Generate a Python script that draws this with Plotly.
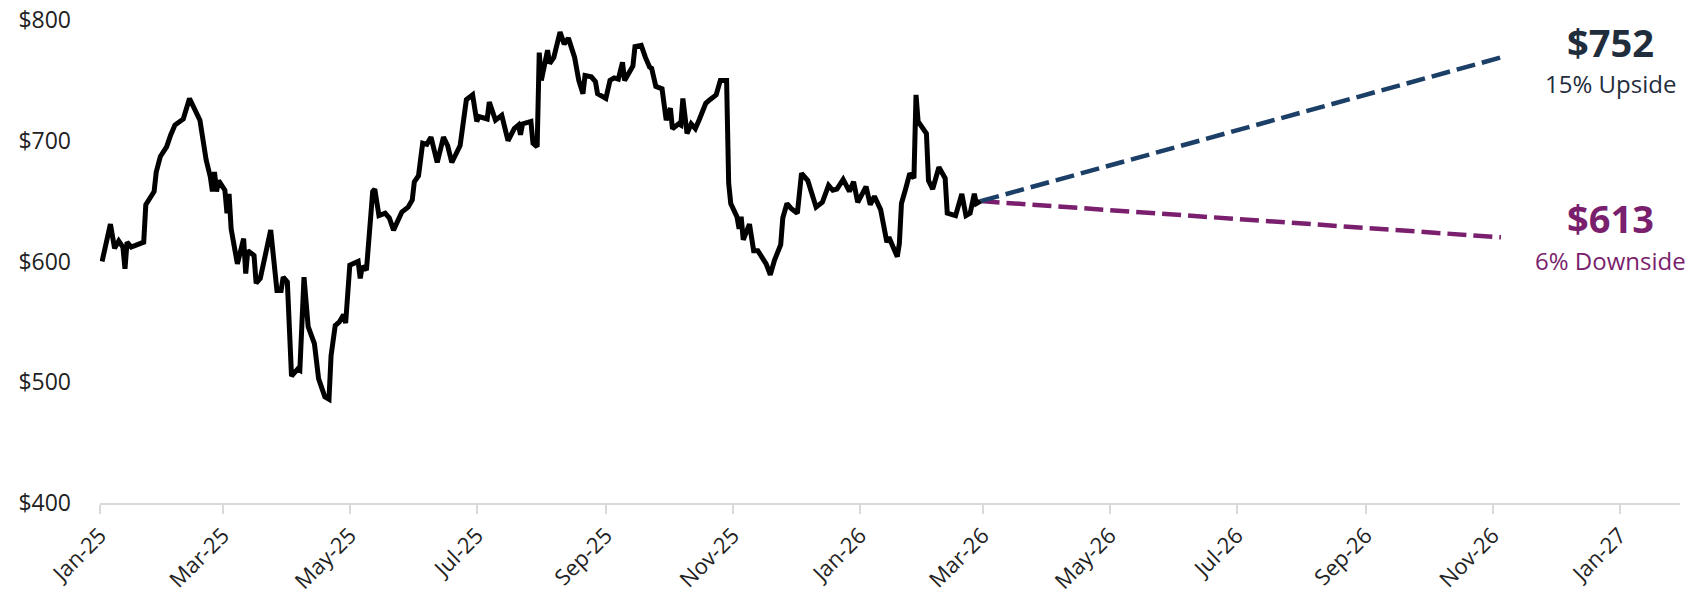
import plotly.graph_objects as go

dates = [
    "2025-01-02", "2025-01-06", "2025-01-08", "2025-01-10", "2025-01-12", "2025-01-13", "2025-01-14", "2025-01-16",
    "2025-01-22", "2025-01-23", "2025-01-27", "2025-01-28", "2025-01-30", "2025-02-02", "2025-02-04", "2025-02-06",
    "2025-02-10", "2025-02-13", "2025-02-18", "2025-02-21", "2025-02-23", "2025-02-24", "2025-02-25", "2025-02-26",
    "2025-02-27", "2025-03-02", "2025-03-03", "2025-03-04", "2025-03-05", "2025-03-08", "2025-03-11", "2025-03-12",
    "2025-03-13", "2025-03-16", "2025-03-17", "2025-03-19", "2025-03-24", "2025-03-27", "2025-03-29", "2025-03-30",
    "2025-04-01", "2025-04-03", "2025-04-06", "2025-04-07", "2025-04-09", "2025-04-11", "2025-04-14", "2025-04-16",
    "2025-04-19", "2025-04-21", "2025-04-22", "2025-04-24", "2025-04-26", "2025-04-28", "2025-04-29", "2025-05-01",
    "2025-05-05", "2025-05-06", "2025-05-07", "2025-05-09", "2025-05-12", "2025-05-13", "2025-05-15", "2025-05-18",
    "2025-05-20", "2025-05-22", "2025-05-26", "2025-05-29", "2025-05-31", "2025-06-01", "2025-06-03", "2025-06-04",
    "2025-06-05", "2025-06-07", "2025-06-09", "2025-06-12", "2025-06-15", "2025-06-17", "2025-06-19", "2025-06-23",
    "2025-06-24", "2025-06-26", "2025-06-29", "2025-07-01", "2025-07-02", "2025-07-06", "2025-07-07", "2025-07-10",
    "2025-07-13", "2025-07-16", "2025-07-19", "2025-07-21", "2025-07-22", "2025-07-23", "2025-07-27", "2025-07-28",
    "2025-07-30", "2025-07-31", "2025-08-01", "2025-08-04", "2025-08-05", "2025-08-07", "2025-08-10", "2025-08-12",
    "2025-08-14", "2025-08-17", "2025-08-19", "2025-08-21", "2025-08-22", "2025-08-25", "2025-08-27", "2025-08-28",
    "2025-09-01", "2025-09-03", "2025-09-05", "2025-09-07", "2025-09-09", "2025-09-10", "2025-09-12", "2025-09-14",
    "2025-09-15", "2025-09-18", "2025-09-20", "2025-09-22", "2025-09-23", "2025-09-25", "2025-09-28", "2025-09-30",
    "2025-10-02", "2025-10-03", "2025-10-06", "2025-10-07", "2025-10-08", "2025-10-10", "2025-10-12", "2025-10-14",
    "2025-10-16", "2025-10-19", "2025-10-21", "2025-10-24", "2025-10-26", "2025-10-29", "2025-10-30", "2025-10-31",
    "2025-11-03", "2025-11-04", "2025-11-05", "2025-11-06", "2025-11-09", "2025-11-11", "2025-11-13", "2025-11-17",
    "2025-11-19", "2025-11-21", "2025-11-24", "2025-11-25", "2025-11-27", "2025-11-29", "2025-12-02", "2025-12-04",
    "2025-12-07", "2025-12-09", "2025-12-11", "2025-12-14", "2025-12-16", "2025-12-17", "2025-12-19", "2025-12-21",
    "2025-12-24", "2025-12-27", "2025-12-29", "2025-12-31", "2026-01-04", "2026-01-06", "2026-01-08", "2026-01-11",
    "2026-01-14", "2026-01-15", "2026-01-17", "2026-01-19", "2026-01-20", "2026-01-21", "2026-01-23", "2026-01-25",
    "2026-01-27", "2026-01-28", "2026-01-29", "2026-02-02", "2026-02-03", "2026-02-05", "2026-02-08", "2026-02-11",
    "2026-02-12", "2026-02-16", "2026-02-19", "2026-02-21", "2026-02-23", "2026-02-25", "2026-02-26", "2026-02-28",
]

prices = [
    600, 631, 611, 617, 612, 594, 616, 612,
    616, 647, 658, 674, 687, 695, 705, 713,
    718, 735, 717, 684, 670, 658, 674, 658,
    667, 659, 640, 656, 627, 598, 619, 590,
    609, 605, 582, 586, 626, 576, 576, 587,
    583, 505, 511, 510, 587, 546, 532, 503,
    488, 486, 522, 547, 550, 556, 549, 597,
    600, 586, 596, 593, 658, 660, 638, 640,
    636, 626, 641, 645, 651, 666, 671, 688,
    698, 697, 703, 682, 703, 696, 682, 696,
    711, 734, 738, 716, 720, 718, 732, 717,
    721, 700, 710, 713, 705, 714, 716, 698,
    695, 773, 750, 775, 764, 769, 790, 780,
    785, 769, 750, 739, 754, 753, 749, 739,
    735, 750, 752, 751, 765, 750, 756, 762,
    778, 779, 769, 761, 760, 745, 743, 717,
    727, 710, 714, 713, 735, 706, 714, 710,
    718, 731, 734, 738, 750, 750, 665, 648,
    637, 627, 637, 618, 631, 609, 609, 598,
    589, 601, 614, 636, 648, 644, 640, 673,
    667, 654, 645, 649, 658, 663, 659, 660,
    668, 658, 666, 649, 662, 647, 654, 643,
    616, 620, 612, 604, 615, 648, 660, 673,
    669, 738, 716, 706, 667, 660, 678, 669,
    640, 638, 656, 638, 640, 656, 648, 650,
]

proj_dates = ["2026-02-28", "2026-11-05"]
upside_path = [650, 769]
downside_path = [650, 620]

upside_target = "$752"
upside_label = "15% Upside"
downside_target = "$613"
downside_label = "6% Downside"

y_ticks = [400, 500, 600, 700, 800]
y_tick_text = ["$400", "$500", "$600", "$700", "$800"]

NAVY = "#1B3F66"
SLATE = "#1F2D3D"
PURPLE = "#7A1F6E"
FONT = "Open Sans"

fig = go.Figure()
fig.add_trace(go.Scatter(x=proj_dates, y=downside_path, mode="lines",
                         line=dict(color=PURPLE, width=4.5, dash="19px,7px"), hoverinfo="skip"))
fig.add_trace(go.Scatter(x=proj_dates, y=upside_path, mode="lines",
                         line=dict(color=NAVY, width=4.5, dash="19px,7px"), hoverinfo="skip"))
fig.add_trace(go.Scatter(x=dates, y=prices, mode="lines",
                         line=dict(color="black", width=5), hoverinfo="skip"))

# positions in paper coords (plot area: x 100..1680 px, y 19.6..503 px)
ann = [
    (upside_target, 0.9563, 0.955, 38, SLATE, True),
    (upside_label, 0.9563, 0.869, 24, SLATE, False),
    (downside_target, 0.9563, 0.590, 38, PURPLE, True),
    (downside_label, 0.9563, 0.503, 24, PURPLE, False),
]
for text, ax, ay, size, color, bold in ann:
    fig.add_annotation(x=ax, y=ay, xref="paper", yref="paper", showarrow=False,
                       text=f"<b>{text}</b>" if bold else text,
                       font=dict(family=FONT, size=size, color=color),
                       xanchor="center", yanchor="middle")

fig.update_layout(
    width=1707, height=594,
    margin=dict(l=100, r=27, t=20, b=91),
    paper_bgcolor="white", plot_bgcolor="white",
    showlegend=False,
    font=dict(family=FONT, size=22, color="#222222"),
    xaxis=dict(
        type="date",
        range=["2025-01-01", "2027-01-30"],
        tick0="2025-01-01", dtick="M2", tickformat="%b-%y",
        tickangle=-45,
        automargin=False,
        showgrid=False, zeroline=False,
        showline=True, linecolor="#D9D9D9", linewidth=2,
        ticks="outside", ticklen=9, tickwidth=2, tickcolor="#D9D9D9",
        tickfont=dict(family=FONT, size=22, color="#222222"),
    ),
    yaxis=dict(
        range=[400, 800],
        tickvals=y_ticks, ticktext=y_tick_text,
        automargin=False,
        showgrid=False, zeroline=False, showline=False,
        ticks="", ticklabelstandoff=28,
        tickfont=dict(family=FONT, size=23, color="#222222"),
    ),
)

fig.write_html("out.html")
